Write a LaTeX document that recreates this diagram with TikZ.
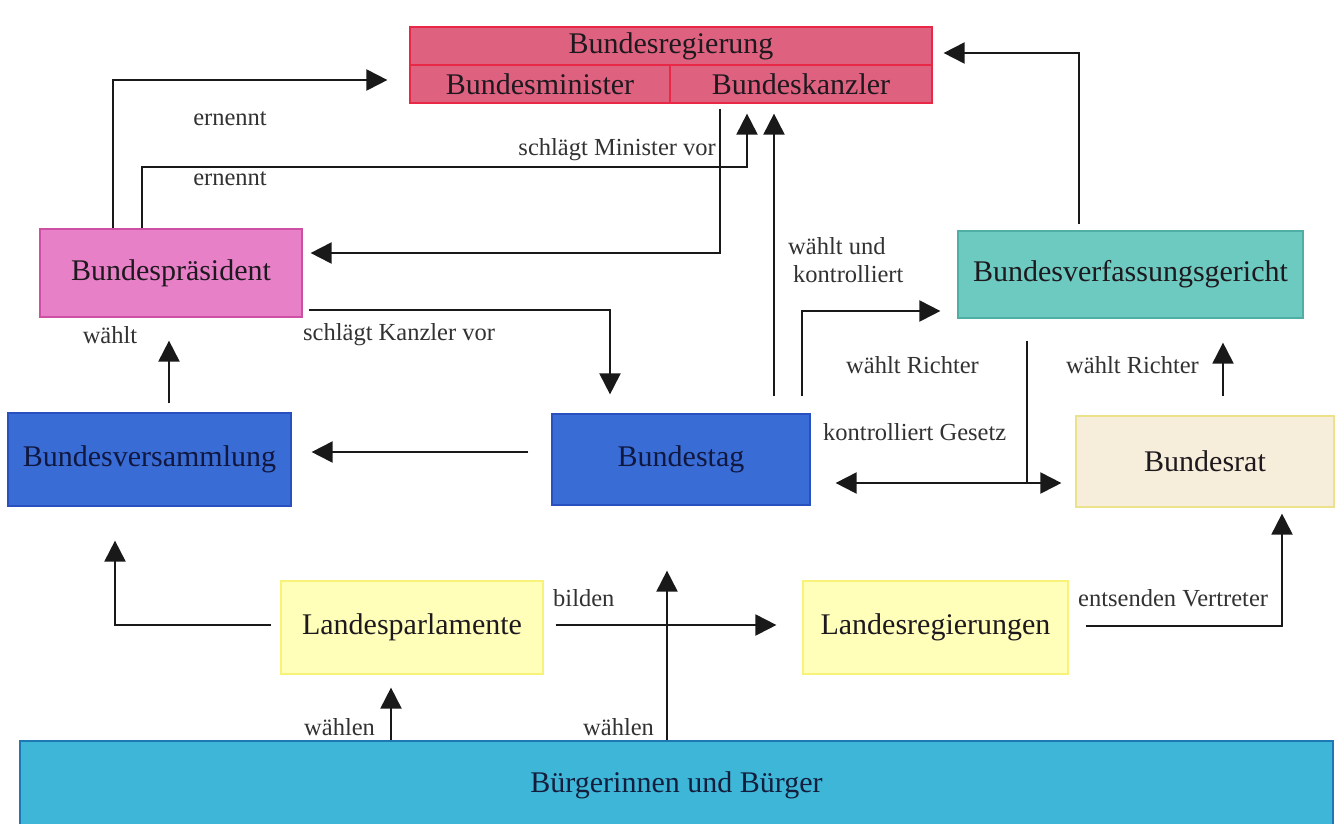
\documentclass[tikz,border=0pt]{standalone}
\usepackage{fontspec}
\setmainfont{Liberation Serif}
\usetikzlibrary{arrows.meta}
\definecolor{regfill}{RGB}{222,98,128}
\definecolor{regline}{RGB}{232,40,70}
\definecolor{bpfill}{RGB}{232,128,200}
\definecolor{bpline}{RGB}{205,80,165}
\definecolor{bvgfill}{RGB}{108,202,192}
\definecolor{bvgline}{RGB}{80,175,165}
\definecolor{bluefill}{RGB}{58,108,214}
\definecolor{blueline}{RGB}{40,80,190}
\definecolor{ratfill}{RGB}{246,238,218}
\definecolor{ratline}{RGB}{236,226,140}
\definecolor{landfill}{RGB}{255,255,186}
\definecolor{landline}{RGB}{248,242,120}
\definecolor{bbfill}{RGB}{62,182,216}
\definecolor{bbline}{RGB}{30,120,180}
\definecolor{txt}{RGB}{30,25,30}
\definecolor{lbl}{RGB}{50,50,50}
\definecolor{conn}{RGB}{25,25,25}
\begin{document}
\begin{tikzpicture}[x=1pt,y=-1pt,
  box/.style={draw, line width=1.2pt, inner sep=0pt, text=txt, font=\fontsize{30}{34}\selectfont},
  lab/.style={inner sep=0pt, text=lbl, font=\fontsize{24.5}{28}\selectfont},
  arr/.style={draw=conn, line width=2pt, -{Triangle[length=21pt,width=21pt]}},
  arrboth/.style={draw=conn, line width=2pt, {Triangle[length=21pt,width=21pt]}-{Triangle[length=21pt,width=21pt]}},
  ln/.style={draw=conn, line width=2pt}]
\fill[white] (0,0) rectangle (1341,823);
\useasboundingbox (0,0) rectangle (1341,823);

% boxes
\node[box, fill=regfill, draw=regline, minimum width=522pt, minimum height=38pt] (breg) at (671,46) {Bundesregierung};
\node[box, fill=regfill, draw=regline, minimum width=260pt, minimum height=38pt] (bmin) at (540,84) {Bundesminister};
\node[box, fill=regfill, draw=regline, minimum width=262pt, minimum height=38pt] (bkanz) at (801,84) {Bundeskanzler};
\node[box, fill=bpfill, draw=bpline, minimum width=262pt, minimum height=88pt] (bp) at (171,273) {Bundespräsident};
\node[box, fill=bvgfill, draw=bvgline, minimum width=345pt, minimum height=87pt] (bvg) at (1130.5,274.5) {Bundesverfassungsgericht};
\node[box, fill=bluefill, draw=blueline, minimum width=283pt, minimum height=93pt, text={rgb,255:red,16;green,24;blue,64}] (bvs) at (149.5,459.5) {Bundesversammlung};
\node[box, fill=bluefill, draw=blueline, minimum width=258pt, minimum height=91pt, text={rgb,255:red,16;green,24;blue,64}] (bt) at (681,459.5) {Bundestag};
\node[box, fill=ratfill, draw=ratline, minimum width=258pt, minimum height=91pt] (brat) at (1205,461.5) {Bundesrat};
\node[box, fill=landfill, draw=landline, minimum width=262pt, minimum height=93pt] (lp) at (412,627.5) {Landesparlamente};
\node[box, fill=landfill, draw=landline, minimum width=265pt, minimum height=93pt] (lr) at (935.5,627.5) {Landesregierungen};
\node[box, fill=bbfill, draw=bbline, minimum width=1313pt, minimum height=88pt, text={rgb,255:red,20;green,30;blue,60}] (bb) at (676.5,785) {Bürgerinnen und Bürger};

% waypoints
\coordinate (k1) at (113,80);
\coordinate (k2) at (142,167);
\coordinate (k3) at (747,167);
\coordinate (k4) at (720,253);
\coordinate (k5) at (610,310);
\coordinate (k6) at (169,0);
\coordinate (k7) at (0,452);
\coordinate (k8) at (774,0);
\coordinate (k9) at (802,311);
\coordinate (k10) at (1027,483);
\coordinate (k11) at (1223,0);
\coordinate (k12) at (1079,53);
\coordinate (k13) at (115,625);
\coordinate (k14) at (0,625);
\coordinate (k15) at (391,0);
\coordinate (k16) at (667,0);
\coordinate (k17) at (1282,626);

% connectors
\draw[arr] (bp.north -| k1) |- ([xshift=-22pt]bmin.west |- k1);
\draw[arr] (bp.north -| k2) |- (k3) -- ([yshift=-10pt]bkanz.south -| k3);
\draw[arr] ([yshift=-5pt]bkanz.south -| k4) |- ([xshift=8pt]bp.east |- k4);
\draw[arr] ([xshift=6pt]bp.east |- k5) -| ([yshift=19pt]bt.north -| k5);
\draw[arr] ([yshift=9pt]bvs.north -| k6) -- ([yshift=-23pt]bp.south -| k6);
\draw[arr] ([xshift=-23pt]bt.west |- k7) -- ([xshift=20pt]bvs.east |- k7);
\draw[arr] ([yshift=17pt]bt.north -| k8) -- ([yshift=-10pt]bkanz.south -| k8);
\draw[arr] ([yshift=17pt]bt.north -| k9) |- ([xshift=-17pt]bvg.west |- k9);
\draw[arrboth] ([xshift=25pt]bt.east |- k10) -- ([xshift=-14pt]brat.west |- k10);
\draw[ln] ([yshift=-22pt]bvg.south -| k10) -- (k10);
\draw[arr] ([yshift=19pt]brat.north -| k11) -- ([yshift=-24pt]bvg.south -| k11);
\draw[arr] ([yshift=6pt]bvg.north -| k12) |- ([xshift=11pt]breg.east |- k12);
\draw[arr] ([xshift=-9pt]lp.west |- k13) -| ([yshift=-34pt]bvs.south -| k13);
\draw[arr] ([xshift=12pt]lp.east |- k14) -- ([xshift=-26pt]lr.west |- k14);
\draw[arr] (bb.north -| k15) -- ([yshift=-13pt]lp.south -| k15);
\draw[arr] (bb.north -| k16) -- ([yshift=-65pt]bt.south -| k16);
\draw[arr] ([xshift=17pt]lr.east |- k17) -| ([yshift=-6pt]brat.south -| k17);

% labels
\node[lab] (l1) at (230,119) {ernennt};
\node[lab] (l2) at (230,179) {ernennt};
\node[lab, anchor=east] (l3) at (716,150) {schlägt Minister vor};
\node[lab] (l4) at (110,335) {wählt};
\node[lab, anchor=west] (l5) at (303,335) {schlägt Kanzler vor};
\node[lab, anchor=west] (l6) at (788,246) {wählt und};
\node[lab, anchor=west] (l7) at (793,274) {kontrolliert};
\node[lab, anchor=west] (l8) at (846,365) {wählt Richter};
\node[lab, anchor=west] (l9) at (823,432) {kontrolliert Gesetz};
\node[lab, anchor=west] (l10) at (1066,365) {wählt Richter};
\node[lab, anchor=west] (l11) at (553,598) {bilden};
\node[lab, anchor=west] (l12) at (1078,598) {entsenden Vertreter};
\node[lab, anchor=west] (l13) at (304,727) {wählen};
\node[lab, anchor=west] (l14) at (583,727) {wählen};
\end{tikzpicture}
\end{document}
